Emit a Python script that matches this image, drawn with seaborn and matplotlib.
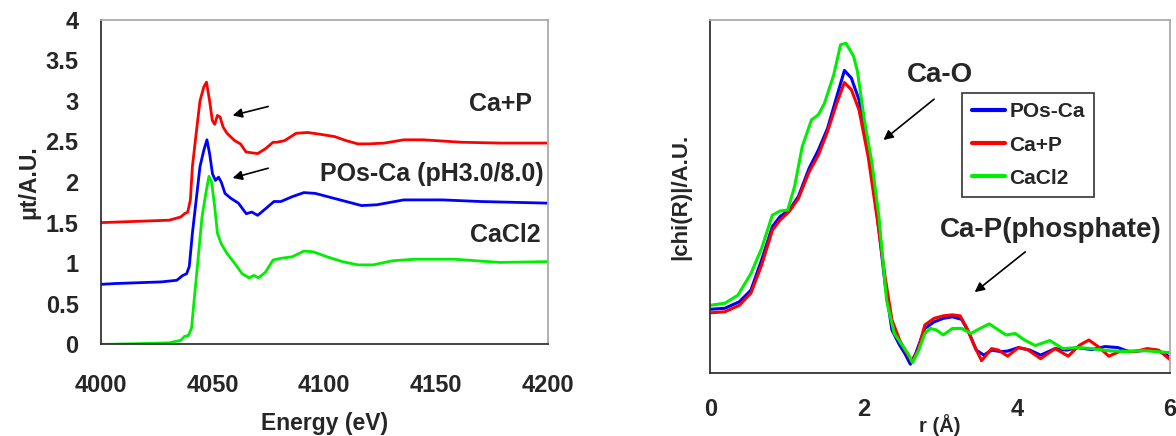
import numpy as np
import pandas as pd
import matplotlib
matplotlib.use("Agg")
import matplotlib.pyplot as plt
import seaborn as sns
from matplotlib.ticker import FuncFormatter

# ---------------- data: XANES (left) ----------------
e_red = [4000, 4030.6, 4035.8, 4037.5, 4038.9, 4040.1, 4041, 4042.7, 4044.4, 4046.1, 4047.3, 4048.7,
         4049.9, 4051, 4052.2, 4053.4, 4054.7, 4056.5, 4059.9, 4062.5, 4065, 4067.6, 4070.2, 4073.7,
         4077.1, 4078.8, 4082.3, 4087.4, 4092.6, 4097.8, 4104.6, 4109.8, 4115, 4120.1, 4127, 4135.6,
         4144.2, 4161.4, 4178.7, 4200]
mu_red = [1.50, 1.53, 1.57, 1.61, 1.63, 1.78, 2.19, 2.60, 3.00, 3.17, 3.23, 3.00,
          2.76, 2.71, 2.82, 2.80, 2.68, 2.60, 2.51, 2.47, 2.37, 2.36, 2.35, 2.41,
          2.49, 2.49, 2.51, 2.60, 2.61, 2.59, 2.56, 2.51, 2.47, 2.47, 2.48, 2.52,
          2.52, 2.49, 2.48, 2.48]

e_blue = [4000, 4006.5, 4027, 4034, 4036.7, 4038.4, 4039.6, 4041, 4042.7, 4044.4, 4046.1, 4047.5,
          4048.7, 4050, 4051.3, 4052.7, 4053.9, 4055.6, 4058.2, 4061.6, 4065.1, 4067.6, 4070.2,
          4073.7, 4077.5, 4080.6, 4085.7, 4090.9, 4096, 4102.9, 4109.8, 4116.7, 4123.6, 4135.6,
          4152.8, 4170, 4200]
mu_blue = [0.74, 0.75, 0.77, 0.79, 0.85, 0.87, 0.96, 1.37, 1.78, 2.19, 2.39, 2.52,
           2.35, 2.10, 2.02, 2.06, 2.00, 1.86, 1.80, 1.74, 1.61, 1.63, 1.59,
           1.67, 1.76, 1.76, 1.82, 1.87, 1.86, 1.81, 1.76, 1.71, 1.72, 1.78,
           1.78, 1.76, 1.74]

e_green = [4000, 4016.9, 4030.6, 4035.8, 4037.5, 4039.2, 4040.6, 4041.8, 4043.5, 4045.3, 4047, 4048.4,
           4049.6, 4051, 4052.2, 4053.9, 4056.5, 4059.9, 4063.3, 4066.4, 4068.5, 4070.6, 4073.7,
           4077.1, 4080.5, 4085.7, 4090.9, 4095.2, 4101.2, 4108.1, 4115, 4121.9, 4130.5, 4140.8,
           4158, 4178.7, 4200]
mu_green = [0.00, 0.01, 0.02, 0.05, 0.10, 0.11, 0.20, 0.55, 1.04, 1.57, 1.86, 2.07,
            2.00, 1.69, 1.37, 1.24, 1.12, 1.00, 0.87, 0.82, 0.85, 0.82, 0.89,
            1.04, 1.06, 1.08, 1.15, 1.14, 1.08, 1.02, 0.98, 0.98, 1.03, 1.05,
            1.05, 1.01, 1.02]

# ---------------- data: FT |chi(R)| (right) ----------------
r_blue = [0, 0.19, 0.38, 0.53, 0.67, 0.81, 0.91, 1.03, 1.15, 1.29, 1.41, 1.53, 1.65, 1.75, 1.84, 1.94,
          2.06, 2.18, 2.28, 2.37, 2.47, 2.54, 2.61, 2.68, 2.80, 2.92, 3.04, 3.16, 3.28, 3.38, 3.47,
          3.57, 3.67, 3.79, 3.88, 4.02, 4.17, 4.31, 4.50, 4.65, 4.79, 4.98, 5.15, 5.32, 5.46, 5.65,
          5.80, 5.94, 6.0]
c_blue = [1.26, 1.28, 1.41, 1.64, 2.24, 2.90, 3.10, 3.23, 3.50, 4.06, 4.42, 4.85, 5.48, 6.00, 5.85, 5.42,
          4.42, 3.10, 1.77, 0.85, 0.55, 0.38, 0.17, 0.38, 0.88, 1.01, 1.08, 1.11, 1.06, 0.78, 0.45,
          0.35, 0.45, 0.42, 0.43, 0.50, 0.45, 0.35, 0.48, 0.45, 0.50, 0.46, 0.52, 0.50, 0.42, 0.44,
          0.45, 0.38, 0.28]

r_red = [0, 0.19, 0.38, 0.53, 0.67, 0.81, 0.91, 1.03, 1.15, 1.29, 1.41, 1.53, 1.65, 1.75, 1.84, 1.94,
         2.06, 2.18, 2.28, 2.37, 2.47, 2.54, 2.63, 2.71, 2.80, 2.92, 3.04, 3.16, 3.26, 3.35, 3.45,
         3.54, 3.67, 3.76, 3.88, 4.02, 4.14, 4.31, 4.50, 4.67, 4.82, 4.94, 5.06, 5.20, 5.37, 5.54,
         5.70, 5.85, 6.0]
c_red = [1.19, 1.21, 1.34, 1.58, 2.14, 2.83, 3.03, 3.20, 3.46, 3.99, 4.32, 4.79, 5.35, 5.76, 5.62, 5.22,
         4.29, 3.03, 1.91, 1.05, 0.65, 0.45, 0.22, 0.45, 0.95, 1.08, 1.13, 1.15, 1.13, 0.88, 0.52,
         0.24, 0.48, 0.45, 0.33, 0.50, 0.46, 0.28, 0.48, 0.33, 0.55, 0.65, 0.52, 0.33, 0.44, 0.42,
         0.48, 0.45, 0.26]

r_green = [0, 0.19, 0.36, 0.53, 0.67, 0.81, 0.91, 1.01, 1.10, 1.20, 1.32, 1.41, 1.49, 1.61, 1.70, 1.77,
           1.87, 1.92, 2.01, 2.11, 2.20, 2.30, 2.40, 2.49, 2.58, 2.64, 2.72, 2.80, 2.87, 2.95, 3.04,
           3.16, 3.28, 3.40, 3.52, 3.64, 3.76, 3.86, 3.98, 4.10, 4.24, 4.43, 4.60, 4.79, 4.98, 5.17,
           5.41, 5.65, 6.0]
c_green = [1.34, 1.38, 1.54, 1.97, 2.47, 3.13, 3.21, 3.23, 3.70, 4.49, 5.02, 5.12, 5.35, 5.91, 6.51, 6.54,
           6.28, 5.98, 5.02, 4.16, 3.10, 1.44, 0.78, 0.58, 0.38, 0.20, 0.45, 0.78, 0.88, 0.85, 0.75,
           0.88, 0.88, 0.78, 0.88, 0.97, 0.85, 0.75, 0.78, 0.65, 0.54, 0.64, 0.48, 0.50, 0.48, 0.44,
           0.42, 0.44, 0.40]

labels_right = ["POs-Ca", "Ca+P", "CaCl2"]
xticks_left = [4000, 4050, 4100, 4150, 4200]
yticks_left = [0, 0.5, 1, 1.5, 2, 2.5, 3, 3.5, 4]
xticks_right = [0, 2, 4, 6]

# ---------------- style ----------------
sns.set_style("white")
plt.rcParams['font.family'] = ['Liberation Sans', 'DejaVu Sans']
plt.rcParams['font.weight'] = 'bold'
plt.rcParams['axes.labelweight'] = 'bold'

BLUE, RED, GREEN = "#0000ff", "#ff0000", "#00ee00"

fig = plt.figure(figsize=(11.76, 4.36), dpi=100)
ax1 = fig.add_axes([0.0857, 0.210, 0.380, 0.745])
ax2 = fig.add_axes([0.604, 0.145, 0.391, 0.809])

# ---- left plot ----
sns.lineplot(x=e_red, y=mu_red, ax=ax1, color=RED, lw=2, sort=False)
sns.lineplot(x=e_blue, y=mu_blue, ax=ax1, color=BLUE, lw=2, sort=False)
sns.lineplot(x=e_green, y=mu_green, ax=ax1, color=GREEN, lw=2, sort=False)
ax1.set_xlim(4000, 4200)
ax1.set_ylim(0, 4)
ax1.set_xticks(xticks_left)
ax1.set_yticks(yticks_left)
ax1.yaxis.set_major_formatter(FuncFormatter(lambda v, p: f"{v:g}"))
ax1.tick_params(axis='x', direction='in', length=6, width=1, pad=21, labelsize=17)
ax1.tick_params(axis='y', direction='in', length=6, width=1, pad=16, labelsize=17)
ax1.set_xlabel("Energy (eV)", fontsize=16.5, fontweight='bold', labelpad=11)
ax1.set_ylabel("μt/A.U.", fontsize=16.5, fontweight='bold', labelpad=4)

ax1.text(4192.8, 2.96, "Ca+P", ha='right', va='center', fontsize=18, fontweight='bold')
ax1.text(4198, 2.10, "POs-Ca (pH3.0/8.0)", ha='right', va='center', fontsize=18, fontweight='bold')
ax1.text(4196.7, 1.35, "CaCl2", ha='right', va='center', fontsize=18, fontweight='bold')
arrow_kw = dict(arrowstyle='-|>', color='black', lw=1.2, mutation_scale=14, shrinkA=0, shrinkB=0)
ax1.annotate("", xy=(4059.0, 2.82), xytext=(4074.9, 2.93), arrowprops=arrow_kw)
ax1.annotate("", xy=(4059.0, 2.05), xytext=(4074.9, 2.17), arrowprops=arrow_kw)

# ---- right plot ----
sns.lineplot(x=r_blue, y=c_blue, ax=ax2, color=BLUE, lw=2.2, sort=False, label=labels_right[0])
sns.lineplot(x=r_red, y=c_red, ax=ax2, color=RED, lw=2.2, sort=False, label=labels_right[1])
sns.lineplot(x=r_green, y=c_green, ax=ax2, color=GREEN, lw=2.2, sort=False, label=labels_right[2])
ax2.set_xlim(0, 6)
ax2.set_ylim(0, 7)
ax2.set_xticks(xticks_right)
ax2.set_yticks(range(0, 8))
ax2.set_yticklabels([])
ax2.tick_params(axis='x', direction='in', length=6, width=1, pad=18, labelsize=17)
ax2.tick_params(axis='y', direction='in', length=6, width=1)
ax2.set_xlabel("r (Å)", fontsize=14.5, fontweight='bold', labelpad=-5)
ax2.set_ylabel("|chi(R)|/A.U.", fontsize=16, fontweight='bold', labelpad=10)

ax2.text(2.99, 5.91, "Ca-O", ha='center', va='center', fontsize=20, fontweight='bold')
ax2.text(4.44, 2.83, "Ca-P(phosphate)", ha='center', va='center', fontsize=20, fontweight='bold')
ax2.annotate("", xy=(2.26, 4.62), xytext=(2.92, 5.43), arrowprops=arrow_kw)
ax2.annotate("", xy=(3.45, 1.60), xytext=(4.11, 2.40), arrowprops=arrow_kw)

leg = ax2.legend(loc='upper left', bbox_to_anchor=(0.548, 0.793), fontsize=15, frameon=True,
                 fancybox=False, edgecolor='black', handlelength=1.6, handletextpad=0.2,
                 labelspacing=0.68, borderpad=0.45, borderaxespad=0)
leg.get_frame().set_linewidth(1.2)
for h in leg.get_lines():
    h.set_linewidth(3)
for t in leg.get_texts():
    t.set_fontweight('bold')

for ax in (ax1, ax2):
    ax.spines['left'].set_color('#333333')
    ax.spines['bottom'].set_color('#333333')
    ax.spines['top'].set_color('#aaaaaa')
    ax.spines['right'].set_color('#aaaaaa')
    for s in ax.spines.values():
        s.set_linewidth(1.3)

fig.savefig("out.png", dpi=100)
